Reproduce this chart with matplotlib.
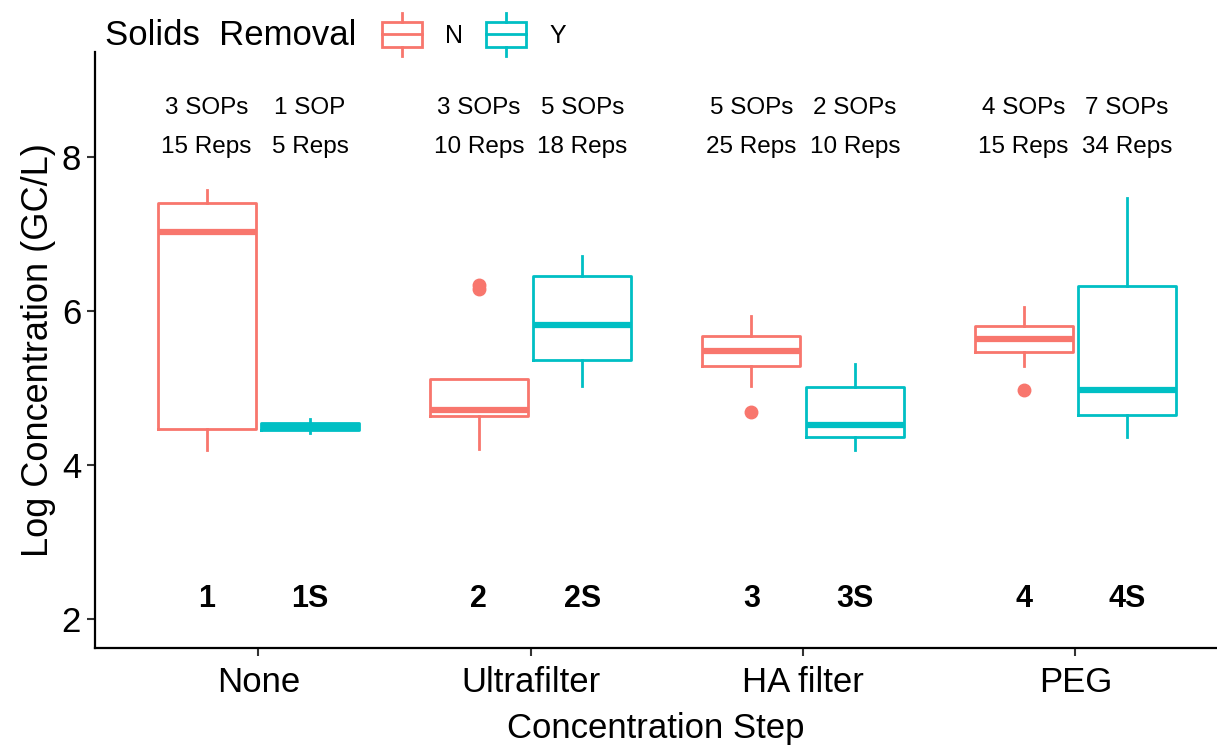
import matplotlib.pyplot as plt
from matplotlib.legend_handler import HandlerBase
from matplotlib.patches import Patch, Rectangle
from matplotlib.lines import Line2D

plt.rcParams["font.family"] = ["Liberation Sans", "DejaVu Sans"]

steps = ["None", "Ultrafilter", "HA filter", "PEG"]
red = "#F8766D"
teal = "#00BFC4"

# box stats, solids removal N
n_whislo = [4.19, 4.21, 5.03, 5.28]
n_q1 = [4.46, 4.63, 5.28, 5.47]
n_med = [7.03, 4.71, 5.48, 5.63]
n_q3 = [7.40, 5.11, 5.68, 5.81]
n_whishi = [7.57, 5.11, 5.93, 6.05]
n_fliers = [[], [6.28, 6.34], [4.69], [4.97]]

# box stats, solids removal Y
y_whislo = [4.41, 5.03, 4.19, 4.36]
y_q1 = [4.45, 5.36, 4.36, 4.65]
y_med = [4.49, 5.82, 4.52, 4.97]
y_q3 = [4.54, 6.45, 5.01, 6.32]
y_whishi = [4.60, 6.71, 5.31, 7.46]
y_fliers = [[], [], [], []]

n_sops = ["3 SOPs", "3 SOPs", "5 SOPs", "4 SOPs"]
n_reps = ["15 Reps", "10 Reps", "25 Reps", "15 Reps"]
y_sops = ["1 SOP", "5 SOPs", "2 SOPs", "7 SOPs"]
y_reps = ["5 Reps", "18 Reps", "10 Reps", "34 Reps"]
n_codes = ["1", "2", "3", "4"]
y_codes = ["1S", "2S", "3S", "4S"]


def make_stats(lo, q1, med, q3, hi, fl):
    return [dict(whislo=a, q1=b, med=c, q3=d, whishi=e, fliers=f)
            for a, b, c, d, e, f in zip(lo, q1, med, q3, hi, fl)]


class BoxHandler(HandlerBase):
    def create_artists(self, legend, orig_handle, xdescent, ydescent,
                       width, height, fontsize, trans):
        c = orig_handle.get_edgecolor()
        x0, y0 = -xdescent, -ydescent
        rect = Rectangle((x0, y0), width, height, fill=False, ec=c, lw=2,
                         transform=trans)
        mid = Line2D([x0, x0 + width], [y0 + height / 2] * 2, color=c, lw=2,
                     transform=trans)
        xm = x0 + width / 2
        top = Line2D([xm, xm], [y0 + height, y0 + height * 1.35], color=c,
                     lw=2, transform=trans)
        bot = Line2D([xm, xm], [y0, y0 - height * 0.35], color=c, lw=2,
                     transform=trans)
        return [rect, mid, top, bot]


fig = plt.figure(figsize=(12.17, 7.45), dpi=100)
ax = fig.add_axes([0.078, 0.130, 0.922, 0.800])

pos = list(range(1, len(steps) + 1))
off = 0.19
w = 0.36
groups = [
    (make_stats(n_whislo, n_q1, n_med, n_q3, n_whishi, n_fliers), red, -off),
    (make_stats(y_whislo, y_q1, y_med, y_q3, y_whishi, y_fliers), teal, off),
]
for stats, col, d in groups:
    ax.bxp(stats, positions=[p + d for p in pos], widths=w, showcaps=False,
           boxprops=dict(color=col, lw=2),
           whiskerprops=dict(color=col, lw=2),
           medianprops=dict(color=col, lw=4.5, solid_capstyle="butt"),
           flierprops=dict(marker="o", markerfacecolor=col,
                           markeredgecolor=col, markersize=9))

for i, p in enumerate(pos):
    for d, s, r, code in [(-off, n_sops[i], n_reps[i], n_codes[i]),
                          (off, y_sops[i], y_reps[i], y_codes[i])]:
        ax.text(p + d, 8.64, s, ha="center", va="center", fontsize=17.5)
        ax.text(p + d, 8.13, r, ha="center", va="center", fontsize=17.5)
        ax.text(p + d, 2.26, code, ha="center", va="center", fontsize=22,
                fontweight="bold")

ax.set_xlim(0.4, 4.52)
ax.set_ylim(1.62, 9.36)
ax.set_xticks(pos)
ax.set_xticklabels(steps)
ax.set_yticks([2, 4, 6, 8])
ax.tick_params(labelsize=25, width=1.5, length=6, color="#333333", pad=4)
ax.tick_params(axis="x", pad=7)
for s in ["top", "right"]:
    ax.spines[s].set_visible(False)
for s in ["left", "bottom"]:
    ax.spines[s].set_linewidth(1.6)
ax.set_xlabel("Concentration Step", fontsize=25, labelpad=9)
ax.set_ylabel("Log Concentration (GC/L)", fontsize=26, labelpad=4)

fig.text(0.086, 0.953, "Solids  Removal", fontsize=25, va="center")
handles = [Patch(edgecolor=red, facecolor="none"),
           Patch(edgecolor=teal, facecolor="none")]
fig.legend(handles, ["N", "Y"], handler_map={Patch: BoxHandler()},
           loc="center left", bbox_to_anchor=(0.295, 0.953), ncol=2,
           frameon=False, fontsize=18, handlelength=1.6, handleheight=1.15,
           handletextpad=0.95, columnspacing=0.9)

fig.savefig("out.png", dpi=100)
